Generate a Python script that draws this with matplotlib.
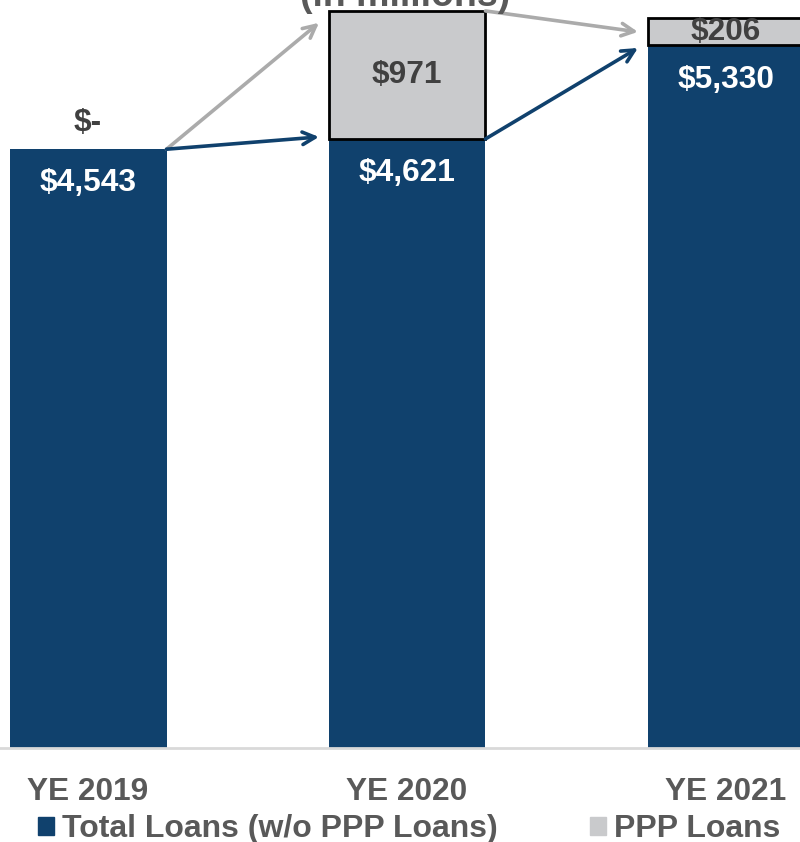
import matplotlib.pyplot as plt
from matplotlib.patches import Patch

# Loan balances, $ millions
periods = ["YE 2019", "YE 2020", "YE 2021"]
core_loans = [4543, 4621, 5330]
ppp_loans = [0, 971, 206]
core_labels = ["$4,543", "$4,621", "$5,330"]
ppp_labels = ["$-", "$971", "$206"]

navy = "#10416D"
ppp_grey = "#C9CACC"
dark_text = "#404040"
tick_grey = "#595959"

plt.rcParams["font.family"] = ["Liberation Sans", "DejaVu Sans"]
plt.rcParams["font.weight"] = "bold"

fig = plt.figure(figsize=(8, 8.42), dpi=100)
ax = fig.add_axes([0, 94 / 842, 1, 748 / 842])

x = list(range(len(periods)))
w = 0.492
ax.bar(x, core_loans, width=w, color=navy, zorder=2)
# PPP segment only where there is a balance
for xi, base, ppp in zip(x, core_loans, ppp_loans):
    if ppp > 0:
        ax.bar(xi, ppp, bottom=base, width=w, color=ppp_grey,
               edgecolor="black", linewidth=2, zorder=3)

ax.set_xlim(-0.276, 2.232)
ax.set_ylim(0, 5675)

# value labels
for xi, base, ppp, cl, pl in zip(x, core_loans, ppp_loans, core_labels, ppp_labels):
    ax.annotate(cl, (xi, base), xytext=(0, -24.5), textcoords="offset points",
                ha="center", va="center", color="white", fontsize=22.8,
                fontweight="bold", zorder=5)
    if ppp > 0:
        ax.text(xi, base + ppp / 2, pl, ha="center", va="center",
                color=dark_text, fontsize=22.8, fontweight="bold", zorder=5)
    else:
        ax.annotate(pl, (xi, base), xytext=(0, 19), textcoords="offset points",
                    ha="center", va="center", color=dark_text, fontsize=22.8,
                    fontweight="bold", zorder=5)

# growth arrows between bars
totals = [c + p for c, p in zip(core_loans, ppp_loans)]
grey_ends = [totals[1] - 90, core_loans[2] + ppp_loans[2] / 2]
navy_ends = [core_loans[1] + 15, core_loans[2] - 19]
for i in range(len(x) - 1):
    x0 = x[i] + w / 2
    x1 = x[i + 1] - w / 2 - 0.03
    ax.annotate("", xy=(x1, grey_ends[i]), xytext=(x0, totals[i]),
                arrowprops=dict(arrowstyle="->,head_length=0.9,head_width=0.45",
                                color="#ABABAB", lw=2.6, shrinkA=0, shrinkB=0),
                zorder=4)
    ax.annotate("", xy=(x1, navy_ends[i]), xytext=(x0, core_loans[i]),
                arrowprops=dict(arrowstyle="->,head_length=0.9,head_width=0.45",
                                color=navy, lw=2.6, shrinkA=0, shrinkB=0),
                zorder=4)

ax.set_xticks(x)
ax.set_xticklabels(periods, fontsize=22.8, fontweight="bold", color=tick_grey)
ax.tick_params(axis="x", length=0, pad=21)
ax.set_yticks([])
for side in ["left", "right", "top"]:
    ax.spines[side].set_visible(False)
ax.spines["bottom"].set_color("#D9D9D9")
ax.spines["bottom"].set_linewidth(2)

fig.text(405 / 800, 1 - 6 / 842, "(in millions)", ha="center", va="baseline",
         fontsize=27, fontweight="bold", color=tick_grey)

handles = [Patch(color=navy, label="Total Loans (w/o PPP Loans)"),
           Patch(color=ppp_grey, label="PPP Loans")]
leg = fig.legend(handles=handles, loc="center left", ncol=2,
                 bbox_to_anchor=(38 / 800, 1 - 829 / 842), frameon=False,
                 borderpad=0, borderaxespad=0, handlelength=0.5,
                 handleheight=0.5, handletextpad=0.25, columnspacing=2.9,
                 prop={"size": 23.0, "weight": "bold"})
for t in leg.get_texts():
    t.set_color(tick_grey)

fig.savefig("out.png", dpi=100)
